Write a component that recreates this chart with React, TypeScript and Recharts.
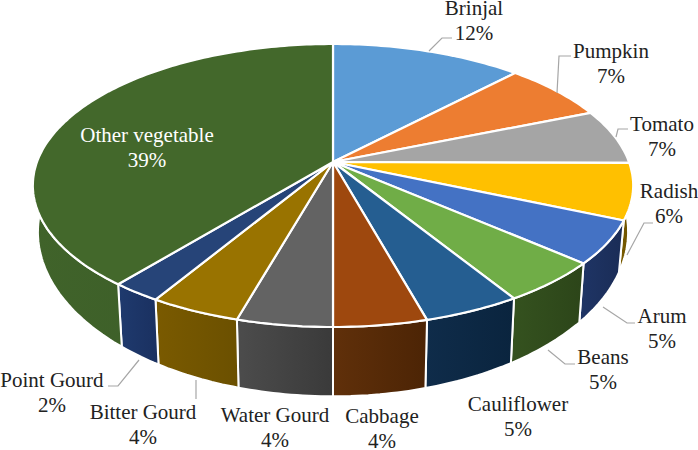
import React from "react";
import { PieChart, Pie } from "recharts";

const categories = ["Brinjal", "Pumpkin", "Tomato", "Radish", "Arum", "Beans", "Cauliflower", "Cabbage", "Water Gourd", "Bitter Gourd", "Point Gourd", "Other vegetable"];
const shares = [12.1, 6.7, 6.3, 6.4, 4.9, 4.8, 4.5, 4.3, 4.4, 4.2, 2.3, 39.1];
const percentLabels = ["12%", "7%", "7%", "6%", "5%", "5%", "5%", "4%", "4%", "4%", "2%", "39%"];

const TOP_COLORS = ["#5B9BD5", "#ED7D31", "#A5A5A5", "#FFC000", "#4472C4", "#70AD47", "#255E91", "#9E480E", "#636363", "#997300", "#264478", "#43682B"];
const WALL_LIGHT = ["#3a5f82", "#8f4b1d", "#636363", "#7d5e00", "#1f3566", "#35521f", "#0f2c4a", "#60300a", "#4c4c4c", "#7a5a00", "#1f3a6e", "#40632a"];
const WALL_DARK = ["#2c4a66", "#703a16", "#4d4d4d", "#664d00", "#1a2c56", "#2c4519", "#0a243e", "#4c2405", "#3a3a3a", "#6b5000", "#1a3060", "#395a27"];

// label text centre + first baseline, then the leader line
const LABEL_POS = [
    [474, 15], [611, 58], [662, 131], [669, 198], [662, 323], [603, 364],
    [518, 411], [382, 423], [275, 422], [143, 419], [52, 387], [147, 142],
];
const LEADERS = [
    "429,51 442,38 452,38",
    "557,93 559,56 571,56",
    "616,137 618,129 628,129",
    "627,255 644,223 653,223",
    "603,307 627,323 635,323",
    "548,350 565,364 575,364",
    "",
    "",
    "",
    "196,380 196,399",
    "139,360 118,386 108,386",
    "",
];

const table = categories.map((name, i) => ({ name, value: shares[i], fill: TOP_COLORS[i] }));

// perspective of the tilted disc
const K = 0.166;
const TILT = 137.6;
const BASE_Y = 204.5;
const BASE_TILT = 160;
const BASE_SCALE = 0.983;

const rad = (deg: number) => (deg * Math.PI) / 180;

const topPoint = (cx: number, cy: number, r: number, deg: number) => {
    const u = Math.cos(rad(deg));
    const v = Math.sin(rad(deg));
    const w = 1 + K * v;
    return [cx + (r * u) / w, cy - (TILT * v) / w];
};

const basePoint = (cx: number, r: number, deg: number) => {
    const u = Math.cos(rad(deg));
    const v = Math.sin(rad(deg));
    const w = 1 + K * v;
    return [cx + (r * BASE_SCALE * u) / w, BASE_Y - (BASE_TILT * v) / w];
};

const sweep = (start: number, end: number) => {
    const n = Math.max(2, Math.ceil(Math.abs(end - start)));
    const out: number[] = [];
    for (let i = 0; i <= n; i++) out.push(start + ((end - start) * i) / n);
    return out;
};

const toPath = (pts: number[][]) => "M" + pts.map((p) => p[0].toFixed(1) + "," + p[1].toFixed(1)).join("L") + "Z";

const TopFace = (props: any) => {
    const { cx, cy, outerRadius, startAngle, endAngle, fill } = props;
    const pts = [[cx, cy], ...sweep(startAngle, endAngle).map((a) => topPoint(cx, cy, outerRadius, a))];
    return <path d={toPath(pts)} fill={fill} stroke="#fff" strokeWidth={2.2} strokeLinejoin="round" />;
};

const WallFace = (props: any) => {
    const { cx, cy, outerRadius, startAngle, endAngle, index } = props;
    const angles = sweep(startAngle, endAngle);
    const pts = [
        ...angles.map((a) => topPoint(cx, cy, outerRadius, a)),
        ...angles.slice().reverse().map((a) => basePoint(cx, outerRadius, a)),
    ];
    return <path d={toPath(pts)} fill={`url(#wall${index})`} stroke="#fff" strokeWidth={2} strokeLinejoin="round" />;
};

const SliceLabel = (props: any) => {
    const i = props.index;
    const [x, y] = LABEL_POS[i];
    const color = i === 11 ? "#fff" : "#222";
    return (
        <g>
            {LEADERS[i] && <polyline points={LEADERS[i]} fill="none" stroke="#a6a6a6" strokeWidth={1.2} />}
            <text x={x} y={y} textAnchor="middle" fill={color} fontFamily="'Liberation Serif'" fontSize={21}>{categories[i]}</text>
            <text x={x} y={y + 24.5} textAnchor="middle" fill={color} fontFamily="'Liberation Serif'" fontSize={21}>{percentLabels[i]}</text>
        </g>
    );
};

export default function App() {
    return (
        <div style={{ position: "absolute", left: 0, top: 0, width: 698, height: 450, background: "#fff" }}>
            <PieChart width={698} height={450} margin={{ top: 0, right: 0, bottom: 0, left: 0 }}>
                <defs>
                    {categories.map((c, i) => (
                        <linearGradient key={c} id={`wall${i}`} x1="0" y1="0" x2="1" y2="0">
                            <stop offset="0%" stopColor={WALL_LIGHT[i]} />
                            <stop offset="100%" stopColor={WALL_DARK[i]} />
                        </linearGradient>
                    ))}
                </defs>
                <Pie
                    data={table}
                    dataKey="value"
                    nameKey="name"
                    cx={333}
                    cy={162}
                    outerRadius={296}
                    startAngle={90}
                    endAngle={-270}
                    stroke="none"
                    shape={WallFace}
                    isAnimationActive={false}
                />
                <Pie
                    data={table}
                    dataKey="value"
                    nameKey="name"
                    cx={333}
                    cy={162}
                    outerRadius={296}
                    startAngle={90}
                    endAngle={-270}
                    shape={TopFace}
                    label={SliceLabel}
                    labelLine={false}
                    isAnimationActive={false}
                />
            </PieChart>
        </div>
    );
}
